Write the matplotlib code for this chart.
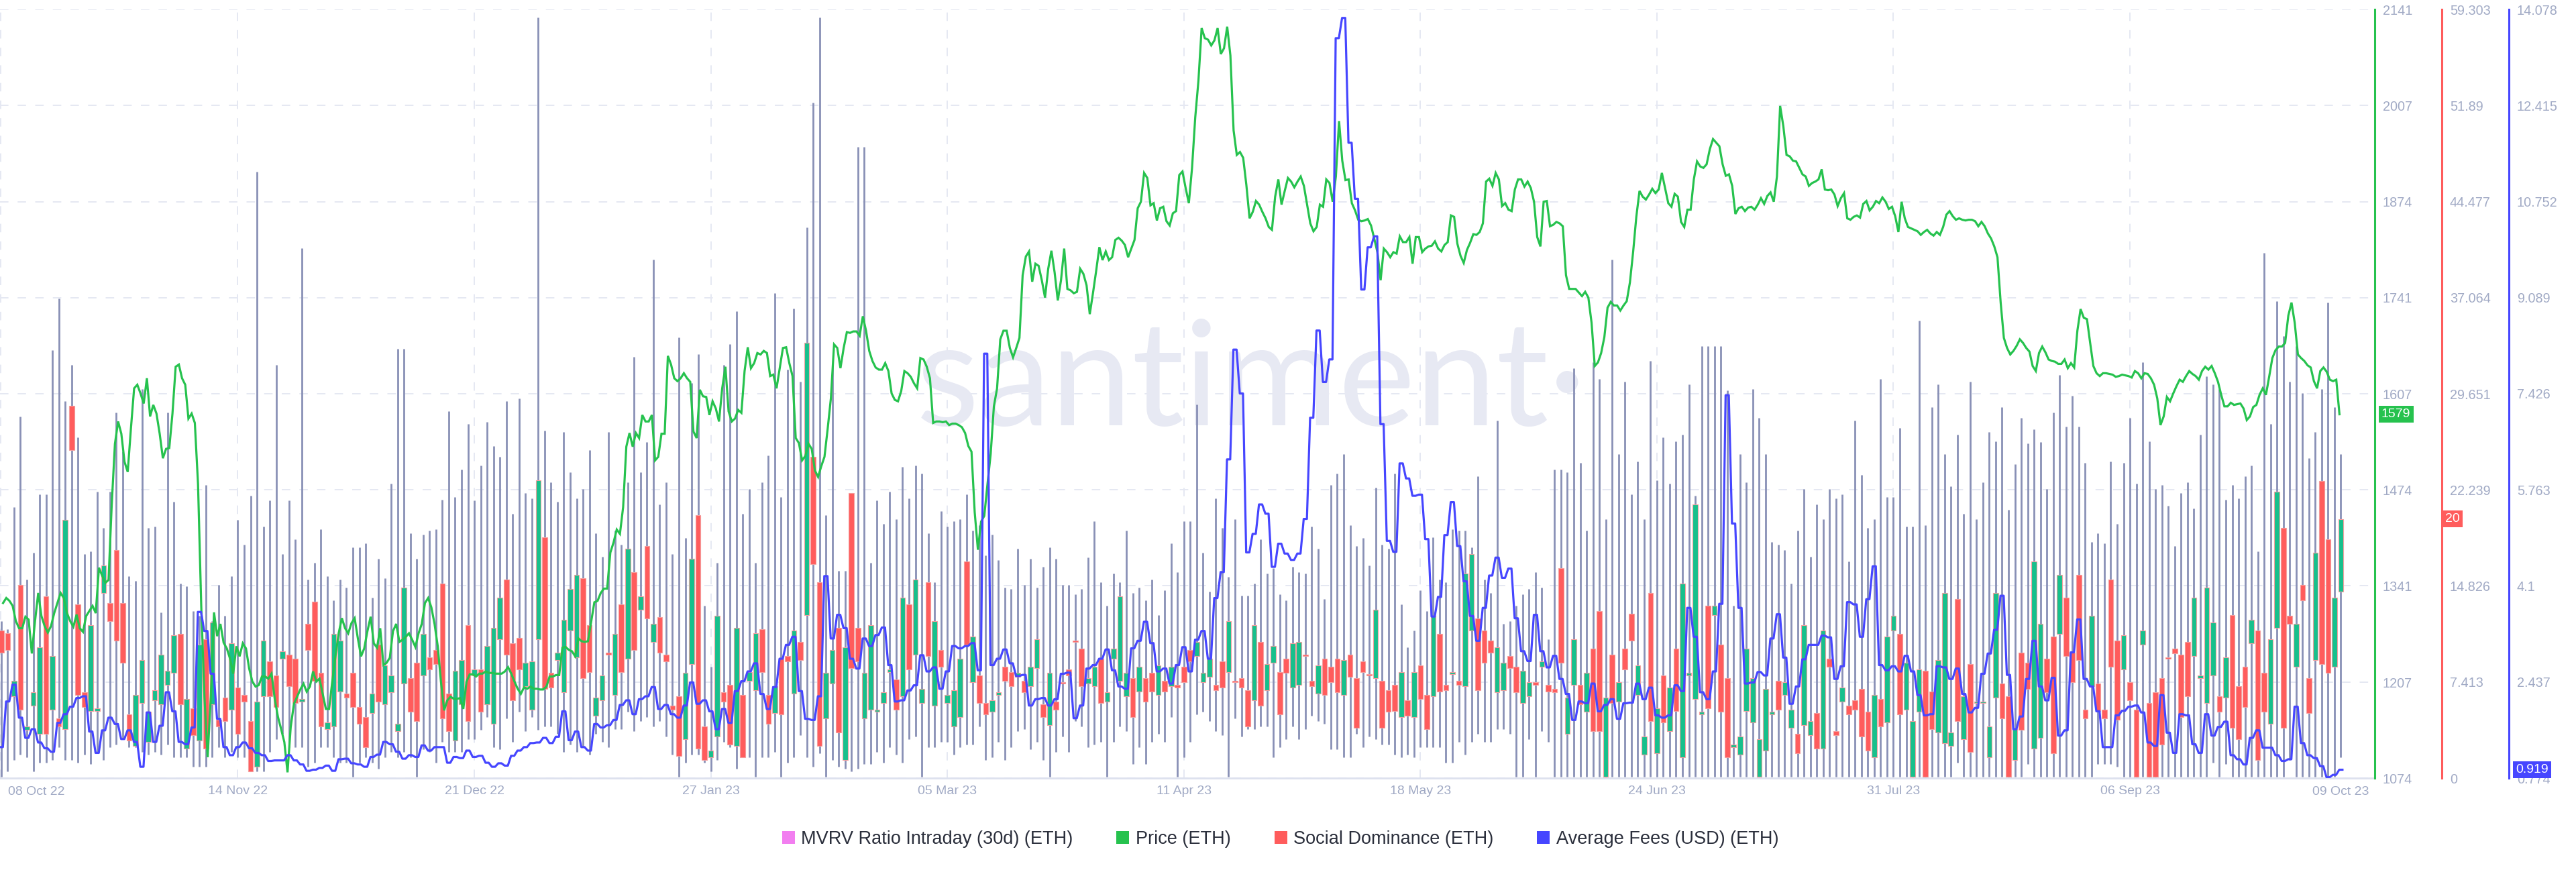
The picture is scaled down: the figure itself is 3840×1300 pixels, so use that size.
import numpy as np
import pandas as pd
import matplotlib
matplotlib.use("Agg")
import matplotlib.pyplot as plt
import matplotlib.transforms as mtransforms
from matplotlib.patches import Patch

plt.rcParams["font.family"] = ["Liberation Sans", "DejaVu Sans"]

START = pd.Timestamp("2022-10-08")
DATE_TICKS = ["2022-11-14", "2022-12-21", "2023-01-27", "2023-03-05", "2023-04-11",
              "2023-05-18", "2023-06-24", "2023-07-31", "2023-09-06"]
FIRST_LABEL = "2022-10-08"
LAST_LABEL = "2023-10-09"

PRICE_TICKS = [1074, 1207, 1341, 1474, 1607, 1741, 1874, 2007, 2141]
SD_TICKS = ["0", "7.413", "14.826", "22.239", "29.651", "37.064", "44.477", "51.89", "59.303"]
FEE_TICKS = ["0.774", "2.437", "4.1", "5.763", "7.426", "9.089", "10.752", "12.415", "14.078"]

# social dominance candles, one per day from 08 Oct 22
SD_OPEN = [
    11.4, 11.2, 6.3, 14.9, 3.7, 5.6, 3.4, 14.0, 5.3, 4.6,
    3.8, 28.7, 13.4, 6.6, 5.2, 5.2, 14.3, 13.5, 17.6, 13.5,
    4.9, 2.5, 5.8, 2.8, 6.0, 5.7, 7.2, 8.1, 11.1, 2.3,
    5.4, 2.9, 10.7, 5.7, 4.5, 6.2, 5.3, 7.0, 6.4, 4.4,
    0.9, 6.3, 9.0, 7.9, 9.2, 9.5, 9.2, 5.9, 11.9, 13.6,
    8.1, 3.8, 4.0, 6.7, 6.5, 8.1, 5.5, 4.7, 5.0, 10.3,
    5.7, 6.6, 3.6,
    7.3, 7.7, 8.9, 7.9, 9.3, 9.9, 15.0,
    6.5, 2.9, 5.7, 11.8, 7.9, 8.4, 5.7, 4.2, 10.7, 15.3,
    10.4, 10.8, 7.1, 5.3, 10.7, 18.6, 8.1, 9.1, 6.6, 11.4,
    9.3, 15.4, 11.8, 4.8, 6.0, 9.7, 6.4, 13.4, 9.2, 15.9,
    13.0, 17.9, 10.5, 12.4, 9.5, 5.6, 6.3, 3.0, 8.8, 20.3,
    4.0, 1.6, 3.2, 6.6, 7.2, 2.5, 6.4, 7.5, 6.8, 11.5,
    6.4, 5.0, 9.2, 9.4, 6.5,
    10.5, 12.6, 24.8, 15.1, 4.6,
    7.3, 11.6, 1.4, 22.0, 11.6, 4.6, 5.3, 5.1, 5.8, 8.2,
    7.6, 6.3, 13.4, 9.5, 5.8, 15.1, 5.6, 9.9, 5.8, 4.0,
    4.7, 16.7, 7.4, 7.9, 5.8, 5.1, 6.4, 8.6, 8.2, 7.8,
    7.5, 7.1, 8.5, 5.7, 4.1, 5.9, 7.4, 8.4, 10.6, 10.0,
    7.3, 7.1, 9.2, 5.9, 9.2, 7.5, 6.3, 7.7, 6.7, 7.7,
    8.1, 6.4, 7.5, 7.1, 7.2, 8.6, 9.9,
    9.4, 7.4, 7.8,
    7.2, 9.0, 8.2, 7.5, 7.7, 6.8, 6.0, 10.5, 6.8, 8.9,
    8.2, 9.2, 7.0, 7.2, 9.5, 7.5, 6.5, 9.2, 8.6, 9.2,
    6.4, 9.5, 7.7, 9.0, 8.0, 7.7, 7.5, 6.8, 7.2, 4.7,
    6.0, 4.7, 8.7, 6.4, 6.3, 11.1, 7.2, 8.0, 7.5, 7.1,
    11.4, 12.3, 11.4, 10.6, 6.6, 6.8, 9.4, 8.6, 5.8, 6.3,
    7.4, 8.6, 7.2, 6.9, 16.2, 3.4, 7.2, 7.2, 5.1,
    10.0, 12.9, 0.1, 9.5, 5.9, 10.0, 12.7, 6.4, 1.8, 14.3, 1.9,
    7.9, 3.6, 10.0, 1.6, 7.9, 6.1, 4.9, 13.3, 12.6, 10.3,
    7.7, 2.4, 1.8, 5.2, 4.3, 0.1, 2.1, 4.9, 7.5, 6.4,
    3.9, 3.4, 4.1, 3.3, 5.0, 2.3, 9.2, 3.6, 5.9, 5.6,
    6.0, 6.9, 5.1, 1.6, 6.1, 4.3, 11.4, 11.1, 5.3, 0.1,
    5.1, 8.3, 6.7, 3.5, 2.7, 2.5, 13.8, 3.0, 8.8, 5.8,
    5.8, 1.6, 6.2, 7.3, 6.3, 1.4, 9.7, 8.9, 2.3, 3.1,
    9.2, 10.9, 11.1, 13.9, 9.7, 15.7, 5.3, 7.1, 7.3, 5.3,
    15.3, 10.6, 8.4, 7.4, 5.3, 10.3, 5.8, 6.6, 7.7, 9.3,
    10.0, 9.5, 10.5, 9.4, 7.7, 5.8, 7.9, 6.3, 6.2, 12.6,
    7.1, 8.6, 10.4, 11.4, 8.1, 4.2, 11.6, 19.3, 12.5, 8.6,
    14.9, 7.7, 9.1, 22.9, 18.4, 8.6, 14.4,
]
SD_CLOSE = [
    9.7, 9.9, 7.5, 5.3, 4.0, 6.6, 10.1, 3.4, 9.4, 4.0,
    19.9, 25.3, 6.4, 5.5, 11.8, 5.4, 16.4, 12.1, 10.6, 8.9,
    2.9, 6.4, 9.1, 5.1, 6.8, 9.5, 8.3, 11.0, 5.7, 6.1,
    3.3, 10.3, 2.3, 12.0, 4.0, 4.4, 10.4, 3.4, 5.9, 0.5,
    5.9, 10.6, 6.3, 5.5, 9.8, 7.1, 5.8, 6.1, 9.9, 7.5,
    4.0, 4.3, 11.1, 10.6, 6.2, 5.5, 4.2, 2.4, 6.5, 5.9,
    8.7, 7.9, 4.2,
    14.7, 5.1, 4.4, 11.1, 8.4, 8.8, 4.6,
    3.6, 8.3, 9.1, 4.4, 8.4, 5.1, 10.2, 11.6, 13.9, 9.5,
    6.0, 8.4, 8.9, 9.0, 23.0, 6.9, 7.0, 9.7, 12.2, 14.6,
    15.7, 7.7, 8.2, 6.2, 7.9, 9.5, 11.1, 8.2, 17.7, 9.9,
    14.0, 12.3, 11.9, 9.7, 9.0, 5.3, 1.7, 8.1, 16.9, 2.3,
    1.4, 2.1, 12.5, 5.9, 2.6, 11.6, 1.6, 8.2, 11.2, 8.2,
    4.2, 7.1, 4.9, 9.0, 11.4,
    9.1, 33.6, 16.5, 2.5, 8.1,
    9.9, 3.5, 10.1, 8.5, 9.0, 8.1, 11.8, 5.3, 6.6, 8.4,
    5.3, 13.9, 8.4, 15.3, 6.9, 9.4, 12.1, 8.6, 6.4, 6.8,
    9.2, 10.3, 10.9, 5.8, 4.9, 6.0, 6.6, 7.5, 7.1, 8.1,
    6.6, 8.6, 10.7, 4.7, 8.1, 5.3, 7.3, 7.9, 10.5, 7.1,
    7.7, 8.6, 5.8, 6.6, 10.0, 14.0, 8.1, 4.7, 8.6, 5.9,
    6.7, 8.7, 6.7, 8.6, 7.0, 7.4, 9.0,
    10.5, 8.1, 9.2,
    6.8, 7.0, 12.1, 7.4, 7.0, 4.0, 11.8, 5.6, 8.8, 10.2,
    4.9, 8.1, 10.4, 10.5, 9.4, 7.1, 8.7, 6.4, 7.4, 6.6,
    9.1, 7.8, 3.9, 8.2, 7.9, 13.0, 3.9, 5.1, 5.2, 8.2,
    4.8, 8.2, 6.1, 3.8, 12.5, 6.7, 6.8, 8.2, 7.2, 15.8,
    17.3, 6.8, 8.9, 9.7, 10.1, 8.9, 8.5, 6.6, 8.3, 7.4,
    7.2, 9.0, 6.7, 6.6, 8.9, 6.2, 10.7, 5.7, 8.1,
    3.6, 3.6, 6.2, 5.8, 7.4, 8.4, 10.6, 8.7, 3.2, 4.4, 5.4,
    4.3, 7.0, 5.2, 15.0, 8.1, 21.1, 5.1, 5.4, 13.3, 5.1,
    1.6, 2.6, 3.2, 10.0, 7.7, 3.0, 6.9, 5.1, 5.3, 7.4,
    5.3, 1.9, 11.8, 4.4, 2.3, 11.4, 8.6, 3.3, 7.0, 4.9,
    5.3, 3.2, 2.1, 6.4, 4.0, 10.9, 12.5, 4.9, 8.9, 4.4,
    8.4, 0.1, 3.8, 9.1, 14.3, 3.5, 4.4, 6.3, 2.0, 5.9,
    5.9, 4.0, 14.3, 4.6, 0.1, 3.8, 3.7, 6.9, 16.7, 11.9,
    6.6, 1.9, 15.7, 9.4, 7.4, 9.1, 4.6, 12.5, 5.2, 4.6,
    8.6, 4.5, 11.0, 6.0, 0.1, 11.4, 0.1, 0.1, 2.6, 9.2,
    9.6, 4.7, 6.3, 13.9, 7.9, 14.7, 12.0, 5.1, 9.3, 3.9,
    3.0, 5.5, 12.2, 1.4, 5.1, 10.7, 22.1, 3.9, 11.9, 11.9,
    13.7, 5.0, 17.4, 8.8, 8.1, 13.9, 20.0,
]
SD_HIGH = [
    12.1, 11.5, 20.9, 27.9, 15.3, 17.4, 21.9, 21.9, 33.0, 37.0,
    29.1, 31.9, 26.3, 17.3, 17.5, 22.1, 19.3, 22.1, 28.2, 25.2,
    15.6, 15.2, 30.0, 19.3, 19.4, 12.8, 28.2, 21.3, 15.0, 14.8,
    12.9, 12.5, 22.6, 12.1, 14.9, 12.5, 15.6, 19.9, 18.0, 21.8,
    46.8, 19.4, 21.4, 31.9, 17.3, 21.4, 18.4, 40.9, 15.3, 16.6,
    19.2, 15.6, 13.7, 15.3, 14.7, 17.8, 17.8, 18.1, 13.9, 16.9,
    15.4, 22.7, 33.1,
    33.1, 18.9, 16.9, 18.8, 19.1, 19.2, 21.5,
    28.3, 21.7, 23.8, 27.3, 21.4, 24.1, 27.5, 25.6, 24.8, 29.1,
    20.4, 29.3, 22.0, 21.6, 58.7, 26.8, 22.8, 21.3, 26.7, 23.6,
    21.6, 22.3, 25.3, 18.9, 17.1, 26.7, 19.1, 18.0, 22.8, 32.5,
    23.6, 25.9, 40.0, 21.1, 22.8, 17.3, 34.0, 18.5, 30.5, 32.7,
    13.3, 8.6, 16.6, 31.9, 33.5, 36.0, 20.4, 22.3, 16.6, 22.8,
    24.9, 37.4, 21.7, 31.5, 36.2,
    30.6, 42.5, 52.1, 58.7, 20.3,
    31.9, 16.0, 16.0, 22.0, 48.7, 48.7, 16.6, 21.4, 19.6, 22.1,
    20.0, 24.0, 21.6, 24.1, 23.5, 18.9, 15.1, 20.6, 19.4, 19.8,
    20.0, 21.9, 19.1, 19.5, 17.2, 18.8, 16.8, 14.7, 14.6, 17.7,
    14.9, 16.9, 14.7, 16.3, 17.8, 16.9, 14.9, 14.9, 14.2, 14.6,
    17.0, 19.8, 15.1, 13.3, 15.8, 15.1, 19.1, 14.3, 14.7, 13.7,
    15.3, 12.6, 14.5, 18.1, 15.9, 19.8, 19.8,
    28.8, 17.4, 14.4,
    21.6, 19.3, 15.5, 20.0, 14.1, 14.1, 15.0, 18.4, 15.8, 16.2,
    14.2, 13.7, 16.3, 15.9, 15.8, 19.4, 17.7, 13.8, 22.6, 23.5,
    25.0, 19.5, 17.9, 18.5, 16.4, 22.4, 18.0, 17.7, 23.5, 13.4,
    10.1, 11.4, 14.5, 12.9, 18.6, 15.3, 15.1, 19.2, 19.1, 19.1,
    17.8, 23.3, 15.3, 14.3, 27.6, 11.9, 12.1, 13.3, 14.2, 14.6,
    15.9, 14.7, 10.7, 23.8, 23.8, 23.6, 31.6, 24.3, 19.1,
    32.1, 30.8, 20.0, 40.0, 25.0, 30.6, 21.9, 24.4, 20.0, 32.2, 23.0,
    26.3, 22.7, 26.0, 26.5, 30.4, 21.8, 33.3, 33.3, 33.3, 33.3,
    29.9, 13.3, 25.0, 22.8, 30.0, 27.8, 25.0, 18.2, 18.0, 17.6,
    15.0, 19.1, 22.3, 17.1, 21.1, 20.0, 22.3, 21.6, 21.9, 16.7,
    27.6, 23.4, 19.3, 20.0, 30.8, 21.7, 21.7, 27.0, 19.4, 19.4,
    35.3, 19.5, 28.6, 30.4, 25.0, 22.5, 26.5, 20.4, 30.6, 20.0,
    22.8, 26.7, 26.0, 28.6, 20.7, 24.2, 27.8, 25.8, 26.9, 25.9,
    22.3, 28.2, 31.1, 27.1, 29.5, 27.1, 24.3, 18.2, 18.9, 18.1,
    24.4, 19.6, 24.3, 27.8, 22.7, 32.1, 26.0, 22.3, 22.6, 21.0,
    17.9, 22.0, 22.8, 20.8, 26.5, 31.0, 30.4, 30.0, 21.5, 22.6,
    21.6, 23.3, 24.1, 17.5, 40.5, 27.3, 36.8, 34.1, 30.6, 33.3,
    29.7, 24.7, 26.7, 30.0, 36.7, 28.6, 25.0,
]
SD_LOW = [
    0.1, 0.5, 1.4, 1.8, 1.6, 0.5, 1.2, 1.2, 1.4, 2.4,
    1.4, 1.4, 1.2, 1.8, 1.1, 2.0, 1.4, 2.4, 2.6, 3.0,
    2.4, 2.4, 2.0, 1.8, 2.0, 1.8, 2.6, 1.6, 1.6, 1.6,
    0.9, 0.9, 0.9, 1.6, 2.4, 1.6, 2.0, 1.6, 1.6, 0.5,
    0.5, 0.5, 2.0, 3.0, 3.4, 2.4, 2.4, 2.4, 0.9, 1.2,
    2.4, 2.4, 1.6, 1.2, 1.2, 0.1, 1.2, 1.6, 1.2, 0.7,
    1.6, 2.0, 1.6,
    2.0, 1.6, 0.1, 2.2, 2.0, 1.2, 2.8,
    2.0, 2.0, 2.0, 3.0, 3.0, 3.7, 4.7, 2.4, 2.2, 4.6,
    2.8, 5.1, 3.6, 4.7, 3.7, 4.0, 4.0, 3.4, 2.0, 2.6,
    2.0, 2.4, 1.8, 3.4, 2.8, 2.4, 3.8, 3.8, 5.1, 3.6,
    4.4, 4.7, 4.0, 4.4, 3.2, 1.8, 0.1, 1.2, 1.8, 1.8,
    1.2, 0.5, 1.4, 2.8, 2.4, 0.7, 1.6, 1.6, 0.1, 1.6,
    1.6, 2.0, 0.1, 1.2, 1.6,
    3.3, 1.6, 0.9, 1.9, 0.1,
    1.4, 0.9, 0.7, 0.5, 0.7, 1.1, 1.1, 2.0, 1.2, 2.4,
    1.8, 1.2, 3.0, 3.2, 0.1, 2.4, 2.4, 2.8, 2.8, 1.8,
    2.4, 2.6, 2.6, 4.0, 1.4, 1.6, 2.8, 1.4, 2.4, 3.6,
    3.8, 2.2, 2.8, 1.4, 0.1, 2.0, 3.2, 2.0, 4.4, 4.0,
    2.4, 2.6, 2.8, 0.1, 2.8, 4.0, 3.6, 1.1, 2.4, 1.1,
    2.8, 3.4, 2.8, 4.7, 0.1, 1.6, 2.8,
    4.9, 5.1, 4.4,
    3.6, 3.3, 0.1, 4.6, 3.2, 3.8, 3.8, 4.0, 4.0, 1.6,
    2.4, 3.0, 4.0, 3.0, 3.8, 4.8, 4.4, 4.2, 2.2, 2.2,
    1.6, 1.6, 3.4, 2.4, 3.2, 3.0, 2.6, 2.6, 1.8, 1.6,
    1.8, 1.6, 2.4, 2.4, 2.4, 2.4, 1.2, 1.2, 2.8, 1.8,
    2.8, 3.4, 2.8, 2.8, 3.8, 3.8, 3.4, 0.1, 0.1, 3.0,
    0.1, 3.6, 2.8, 0.1, 0.1, 0.1, 0.1, 0.1, 0.1,
    0.1, 0.1, 0.0, 0.1, 0.1, 0.1, 0.1, 0.1, 0.1, 0.1, 0.1,
    0.1, 0.1, 0.1, 0.1, 0.1, 0.1, 0.1, 0.1, 0.1, 0.1,
    0.1, 0.1, 0.1, 0.1, 0.1, 0.0, 0.1, 0.1, 0.1, 0.1,
    0.1, 0.1, 0.1, 0.1, 0.1, 0.1, 0.1, 0.1, 0.1, 0.1,
    0.1, 0.1, 0.1, 0.1, 0.1, 0.1, 0.1, 0.1, 0.1, 0.0,
    0.1, 0.0, 0.1, 0.1, 0.1, 0.1, 1.2, 0.1, 0.1, 0.1,
    0.1, 0.1, 0.1, 0.1, 0.0, 0.1, 0.1, 1.1, 0.1, 0.1,
    0.1, 0.1, 0.1, 0.1, 0.1, 0.1, 0.1, 0.1, 1.1, 1.1,
    1.1, 0.9, 0.1, 0.1, 0.0, 0.1, 0.0, 0.0, 0.1, 0.1,
    0.1, 0.1, 0.1, 0.1, 0.1, 0.1, 1.2, 0.1, 1.1, 0.1,
    0.1, 0.1, 0.1, 0.1, 0.1, 0.1, 0.1, 0.1, 1.4, 0.1,
    0.1, 0.1, 0.1, 0.1, 0.1, 0.1, 1.6,
]

# ETH price, two readings per day
PRICE = [
    1317, 1324, 1320, 1313, 1292, 1282, 1282, 1298, 1294, 1247,
    1292, 1331, 1299, 1285, 1276, 1285, 1303, 1317, 1331, 1324,
    1303, 1292, 1284, 1301, 1282, 1277, 1299, 1306, 1313, 1303,
    1366, 1355, 1345, 1349, 1454, 1538, 1569, 1552, 1513, 1499,
    1559, 1615, 1620, 1608, 1594, 1629, 1576, 1592, 1580, 1552,
    1518, 1531, 1532, 1580, 1645, 1648, 1629, 1620, 1573, 1580,
    1567, 1482, 1313, 1187, 1103, 1187, 1304, 1271, 1288, 1262,
    1254, 1240, 1219, 1257, 1243, 1261, 1254, 1226, 1208, 1201,
    1203, 1215, 1215, 1212, 1219, 1184, 1159, 1142, 1124, 1082,
    1145, 1177, 1187, 1197, 1205, 1194, 1201, 1222, 1208, 1212,
    1191, 1170, 1170, 1208, 1243, 1275, 1296, 1282, 1275, 1289,
    1296, 1268, 1243, 1254, 1278, 1298, 1261, 1255, 1282, 1231,
    1234, 1241, 1278, 1288, 1263, 1266,
    1270, 1275, 1266, 1256, 1275, 1288, 1317, 1324, 1311, 1288,
    1257, 1208, 1168, 1182, 1187, 1184, 1184, 1185, 1170, 1208,
    1218, 1218, 1215, 1219, 1219, 1222, 1220, 1220, 1219, 1219,
    1219, 1222, 1228, 1219, 1208, 1198, 1191, 1200, 1198, 1201,
    1198, 1198, 1197, 1197, 1201, 1215, 1215, 1217, 1217, 1255,
    1256, 1252, 1250, 1243, 1268, 1264, 1263, 1264, 1291, 1318,
    1320, 1331, 1337, 1337, 1387, 1401, 1419, 1413, 1450, 1534,
    1553, 1534, 1553, 1546, 1578, 1569, 1569, 1578, 1515, 1520,
    1552, 1552, 1660, 1648, 1629, 1625, 1629, 1636, 1629, 1624,
    1555, 1546, 1613, 1604, 1603, 1578, 1597, 1587, 1569, 1615,
    1645, 1583, 1569, 1573, 1585, 1581, 1639, 1672, 1643, 1650,
    1664, 1662, 1667, 1664, 1632, 1634, 1615, 1643, 1671, 1672,
    1650, 1632, 1546, 1539,
    1515, 1521, 1538, 1531, 1501, 1492, 1507, 1520, 1559, 1601,
    1676, 1671, 1643, 1671, 1693, 1692, 1694, 1694, 1688, 1715,
    1695, 1667, 1653, 1644, 1641, 1641, 1650, 1639, 1608, 1599,
    1597, 1611, 1639, 1636, 1631, 1622, 1615, 1657, 1655, 1645,
    1629, 1567, 1569, 1569, 1568, 1569, 1564, 1566, 1566, 1564,
    1561, 1553, 1535, 1527, 1443, 1391, 1430, 1438, 1482, 1524,
    1590, 1615, 1683, 1695, 1695, 1671, 1658, 1671, 1685, 1772,
    1798, 1805, 1763, 1788, 1785, 1765, 1741, 1781, 1806, 1776,
    1737, 1765, 1809, 1753, 1751, 1747, 1749, 1781, 1774, 1758,
    1718, 1747, 1778, 1811, 1793, 1805, 1793, 1797, 1821, 1824,
    1820, 1814, 1797, 1809, 1821, 1865, 1874, 1914, 1907, 1869,
    1872, 1848, 1865, 1867, 1847, 1841, 1858, 1861, 1911, 1916,
    1893, 1872, 1921,
    1991, 2042, 2115, 2101, 2099, 2091, 2098, 2115, 2079, 2087,
    2117, 2077, 1973, 1939, 1943, 1935, 1897, 1851, 1860, 1875,
    1870, 1860, 1851, 1839, 1835, 1881, 1905, 1870, 1889, 1907,
    1902, 1894, 1902, 1909, 1896, 1870, 1844, 1833, 1839, 1870,
    1867, 1905, 1900, 1874, 1909, 1986, 1931, 1904, 1905, 1872,
    1862, 1849, 1847, 1848, 1850, 1841, 1823, 1804, 1765, 1809,
    1804, 1797, 1804, 1802, 1826, 1818, 1818, 1825, 1788, 1825,
    1825, 1804, 1809, 1812, 1813, 1819, 1809, 1805, 1814, 1818,
    1855, 1853, 1816, 1799, 1789, 1807, 1817, 1829, 1828, 1832,
    1844, 1902, 1906, 1896, 1914, 1905, 1868, 1872, 1863, 1861,
    1891, 1905, 1905, 1895, 1902, 1893, 1874, 1825, 1812, 1874,
    1875, 1840, 1842, 1846, 1844, 1840, 1772, 1753, 1753, 1753,
    1748, 1743, 1749, 1741,
    1706, 1646, 1651, 1664, 1686, 1727, 1735, 1730, 1730, 1723,
    1730, 1736, 1762, 1804, 1853, 1889, 1881, 1877, 1884, 1892,
    1886, 1891, 1914, 1893, 1872, 1867, 1885, 1881, 1846, 1839,
    1863, 1863, 1905, 1930, 1923, 1921, 1926, 1947, 1961, 1956,
    1951, 1926, 1910, 1912, 1896, 1857, 1865, 1867, 1861, 1866,
    1867, 1863, 1870, 1879, 1871, 1882, 1887, 1874, 1909, 2007,
    1979, 1939, 1937, 1931, 1930, 1921, 1912, 1909, 1896, 1900,
    1902, 1905, 1919, 1891, 1890, 1891, 1884, 1868, 1879, 1886,
    1851, 1849, 1853, 1855, 1852, 1871, 1875, 1862, 1867, 1875,
    1872, 1880, 1874, 1864, 1867, 1854, 1832, 1874, 1851, 1839,
    1837, 1835, 1833, 1828, 1832, 1835, 1830, 1827, 1832, 1828,
    1839, 1856, 1861, 1854, 1849, 1851, 1849, 1848, 1849, 1849,
    1847, 1840, 1846,
    1840, 1830, 1823, 1812, 1797, 1734, 1685, 1671, 1662, 1667,
    1674, 1683, 1678, 1671, 1666, 1646, 1639, 1664, 1673, 1665,
    1655, 1653, 1652, 1649, 1649, 1655, 1643, 1650, 1644, 1695,
    1725, 1713, 1711, 1678, 1646, 1636, 1632, 1636, 1636, 1635,
    1634, 1631, 1632, 1634, 1633, 1632, 1630, 1639, 1636, 1629,
    1636, 1635, 1629, 1620, 1601, 1564, 1576, 1603, 1597, 1608,
    1618, 1627, 1624, 1632, 1639, 1635, 1632, 1627, 1639, 1645,
    1641, 1646, 1636, 1624, 1606, 1590, 1590, 1595, 1592, 1593,
    1594, 1587, 1571, 1576, 1589, 1592, 1606, 1615, 1606, 1631,
    1657, 1668, 1673, 1673, 1678, 1716, 1734, 1706, 1662, 1657,
    1653, 1647, 1644, 1625, 1615, 1639, 1644, 1638, 1627, 1625,
    1627, 1579,
]

# average fees (USD), one per day
FEES = [
    1.31, 2.10, 2.39, 1.82, 1.47, 1.62, 1.39, 1.29, 1.23, 1.73,
    1.88, 2.01, 2.16, 2.19, 1.58, 1.21, 1.60, 1.82, 1.71, 1.45,
    1.60, 1.40, 0.97, 1.91, 1.40, 1.68, 2.26, 1.93, 1.40, 1.36,
    1.65, 3.65, 3.32, 2.58, 1.80, 1.31, 1.17, 1.31, 1.39, 1.29,
    1.21, 1.17, 1.07, 1.08, 1.08, 1.17, 1.08, 1.01, 0.90, 0.92,
    0.95, 0.99, 0.90, 1.10, 1.11, 1.03, 1.01, 0.97, 1.14, 1.18,
    1.40, 1.36, 1.23,
    1.11, 1.17, 1.14, 1.34, 1.25, 1.31, 1.31, 1.04, 1.14, 1.12,
    1.25, 1.14, 1.16, 1.04, 0.97, 1.03, 0.99, 1.16, 1.25, 1.31,
    1.38, 1.39, 1.47, 1.38, 1.49, 1.93, 1.43, 1.58, 1.31, 1.25,
    1.71, 1.65, 1.69, 1.78, 2.04, 2.12, 1.88, 2.14, 2.19, 2.35,
    1.97, 2.04, 1.88, 1.82, 2.03, 2.43, 2.06, 2.12, 1.93, 1.62,
    1.97, 1.73, 2.28, 2.45, 2.62, 2.76, 2.23, 1.97, 2.35, 2.84,
    3.08, 3.22,
    2.28, 1.80, 1.78, 2.19, 4.27, 3.19, 3.60, 3.37, 2.84, 2.67,
    3.19, 3.06, 3.25, 3.38, 2.73, 2.10, 2.12, 2.29, 2.38, 2.90,
    2.62, 2.69, 2.32, 2.62, 3.06, 3.02, 3.06, 3.11, 2.64, 8.12,
    2.73, 2.84, 3.00, 2.76, 2.54, 2.56, 2.03, 2.14, 2.16, 2.03,
    2.14, 2.58, 2.60, 1.81, 2.03, 2.67, 2.73, 2.84, 3.00, 2.64,
    2.36, 2.32, 3.02, 3.15, 3.48, 3.11, 2.62, 2.67, 2.41, 2.73,
    3.04, 2.62,
    3.17, 3.32, 2.84, 3.89, 4.34, 6.29, 8.19, 7.43, 4.68, 5.00,
    5.51, 5.35, 4.43, 4.83, 4.66, 4.55, 4.66, 5.26, 7.01, 8.52,
    7.63, 8.02, 13.58, 13.93, 11.77, 10.80, 9.23, 9.96, 10.15, 6.90,
    4.88, 4.69, 6.22, 5.96, 5.66, 5.68, 4.91, 3.57, 3.91, 4.98,
    5.55, 4.79, 4.18, 3.58, 3.15, 3.72, 4.28, 4.59, 4.24, 4.40,
    3.54, 2.97, 2.80, 3.60, 2.97, 2.69, 2.89, 2.49, 2.23, 1.78,
    2.10, 2.07,
    2.41, 1.93, 2.04, 2.14, 1.80, 2.07, 2.08, 2.41, 2.14, 2.34,
    1.86, 1.82, 1.86, 2.38, 2.28, 3.72, 3.22, 2.26, 2.14, 2.62,
    3.79, 7.40, 5.18, 3.72, 2.41, 2.43, 2.61, 2.55, 3.19, 3.61,
    2.86, 2.06, 2.36, 2.83, 3.08, 3.08, 3.24, 3.21, 2.49, 2.71,
    3.82, 3.78, 3.22, 3.87, 4.44, 2.73, 2.64, 2.71, 2.62, 2.89,
    2.62, 2.21, 1.86, 1.88, 2.71, 2.69, 2.49, 2.67, 2.23, 1.91,
    1.99,
    2.58, 2.93, 3.34, 3.93, 2.56, 1.62, 1.84, 2.49, 3.15, 2.36,
    2.12, 2.51, 1.51, 1.60, 2.95, 3.52, 2.49, 2.36, 1.93, 1.31,
    1.31, 1.86, 1.94, 2.01, 2.03, 1.91, 1.39, 1.33, 2.21, 1.56,
    1.21, 1.88, 1.86, 1.36, 1.21, 1.88, 1.51, 1.66, 1.75, 1.17,
    1.10, 1.01, 1.47, 1.60, 1.30, 1.30, 1.17, 1.07, 1.10, 2.01,
    1.38, 1.17, 1.12, 0.98, 0.79, 0.83, 0.919,
]

LEGEND_LABELS = ["MVRV Ratio Intraday (30d) (ETH)", "Price (ETH)",
                 "Social Dominance (ETH)", "Average Fees (USD) (ETH)"]

GREEN = "#26c24e"
RED = "#ff5c5c"
BLUE = "#4646ff"
PINK = "#f27ef0"
BODY_GREEN = "#17c08c"
WICK = "#8990b6"
GRID = "#e5e8f2"
TICK = "#a1aac5"

W, H = 3840, 1300
PLOT_RIGHT, PLOT_TOP, PLOT_BOTTOM = 3540, 14, 1160

fig = plt.figure(figsize=(W / 100, H / 100), dpi=100, facecolor="white")
ax_sd = fig.add_axes([0, (H - PLOT_BOTTOM) / H, PLOT_RIGHT / W, (PLOT_BOTTOM - PLOT_TOP) / H])
ax_px = ax_sd.twinx()
ax_fee = ax_sd.twinx()

days = np.arange(len(SD_OPEN))
o = np.array(SD_OPEN)
c = np.array(SD_CLOSE)
up = c >= o
bottoms = np.minimum(o, c)
heights = np.maximum(np.abs(c - o), 0.12)

ax_sd.vlines(days, SD_LOW, SD_HIGH, color=WICK, lw=2.0, zorder=2)
ax_sd.bar(days[up], heights[up], bottom=bottoms[up], width=0.8, color=BODY_GREEN,
          edgecolor="#f4a0a0", lw=0.8, zorder=3)
ax_sd.bar(days[~up], heights[~up], bottom=bottoms[~up], width=0.8, color=RED,
          edgecolor="#f4a0a0", lw=0.8, zorder=3)

price_days = 0.28 + 0.5 * np.arange(len(PRICE))
ax_px.plot(price_days, PRICE, color=GREEN, lw=2.3, zorder=4, solid_joinstyle="miter")

# fees are drawn as short flat steps per day
fee_x = np.repeat(days[:len(FEES)], 2) + np.tile([-0.25, 0.25], len(FEES))
ax_fee.plot(fee_x, np.repeat(FEES, 2), color=BLUE, lw=2.3, zorder=4)

xmin, xmax = -0.2, 371.3
ax_sd.set_xlim(xmin, xmax)
sd_vals = [float(v) for v in SD_TICKS]
fee_vals = [float(v) for v in FEE_TICKS]
ax_sd.set_ylim(sd_vals[0], sd_vals[-1])
ax_px.set_ylim(PRICE_TICKS[0], PRICE_TICKS[-1])
ax_fee.set_ylim(fee_vals[0], fee_vals[-1])

ax_sd.yaxis.tick_right()
ax_sd.set_yticks(sd_vals, SD_TICKS)
ax_px.set_yticks(PRICE_TICKS, [str(v) for v in PRICE_TICKS])
ax_fee.set_yticks(fee_vals, FEE_TICKS)

tick_days = [(pd.Timestamp(d) - START).days for d in DATE_TICKS]
ax_sd.set_xticks(tick_days, [pd.Timestamp(d).strftime("%d %b %y") for d in DATE_TICKS])
ax_sd.tick_params(axis="x", length=0, pad=8, labelsize=14, labelcolor=TICK)

for a, col, pos in [(ax_px, GREEN, 1.0), (ax_sd, RED, 1 + 100 / PLOT_RIGHT),
                    (ax_fee, BLUE, 1 + 200 / PLOT_RIGHT)]:
    for s in ["top", "left"]:
        a.spines[s].set_visible(False)
    a.spines["right"].set_position(("axes", pos))
    a.spines["right"].set_color(col)
    a.spines["right"].set_linewidth(2.2)
    a.tick_params(axis="y", length=0, pad=8.5, labelsize=14.3, labelcolor=TICK)
ax_px.spines["bottom"].set_visible(False)
ax_fee.spines["bottom"].set_visible(False)
ax_sd.spines["bottom"].set_color("#dde1ee")
ax_sd.spines["bottom"].set_linewidth(2)

ax_sd.grid(True, color=GRID, lw=1.4, linestyle=(0, (6.5, 7)), zorder=0)
ax_sd.axvline(xmin + 0.08, color=GRID, lw=1.4, linestyle=(0, (6.5, 7)), zorder=0)
ax_sd.set_axisbelow(True)

xlab = ax_sd.get_xaxis_transform()
ax_sd.text(1.05, -0.0175, pd.Timestamp(FIRST_LABEL).strftime("%d %b %y"), transform=xlab,
           ha="left", va="center", fontsize=14, color=TICK, clip_on=False)
ax_sd.text((pd.Timestamp(LAST_LABEL) - START).days, -0.0175,
           pd.Timestamp(LAST_LABEL).strftime("%d %b %y"), transform=xlab,
           ha="center", va="center", fontsize=14, color=TICK, clip_on=False)

# watermark
ax_sd.text(0.4857, 1 - 634 / H, "santiment\u00b7", transform=fig.transFigure, ha="center",
           va="baseline", fontsize=156, color="#e7e9f3", family=["Lato", "DejaVu Sans"],
           zorder=1)

# last-value tags on the right axes
for a, col, val, txt, dx in [(ax_px, GREEN, PRICE[-1], str(PRICE[-1]), 10),
                             (ax_sd, RED, SD_CLOSE[-1], f"{SD_CLOSE[-1]:.0f}", 105),
                             (ax_fee, BLUE, FEES[-1], f"{FEES[-1]:.3f}", 210)]:
    tr = mtransforms.blended_transform_factory(a.transAxes, a.transData)
    a.text(1 + dx / PLOT_RIGHT, val, txt, transform=tr, ha="left", va="center",
           fontsize=14, color="white", clip_on=False, zorder=10,
           bbox=dict(boxstyle="square,pad=0.22", fc=col, ec="none"))

handles = [Patch(fc=col, ec="none") for col in [PINK, GREEN, RED, BLUE]]
fig.legend(handles, LEGEND_LABELS, loc="center", bbox_to_anchor=(0.497, 1 - 1251 / H),
           ncol=4, frameon=False, fontsize=19.5, handlelength=0.7, handleheight=0.7,
           handletextpad=0.35, columnspacing=2.4, labelcolor="#2a2e3b")

fig.savefig("out.png", dpi=100, facecolor="white")
